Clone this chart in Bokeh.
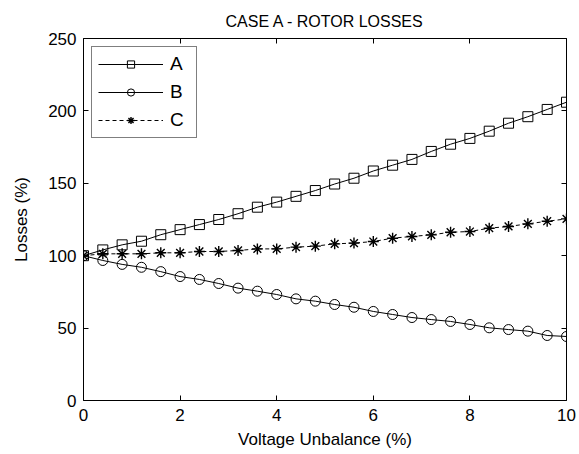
from bokeh.plotting import figure
from bokeh.models import LinearAxis, Range1d, FixedTicker
from bokeh.embed import file_html
from bokeh.resources import INLINE

x = [0, 0.4, 0.8, 1.2, 1.6, 2.0, 2.4, 2.8, 3.2, 3.6, 4.0, 4.4, 4.8, 5.2,
     5.6, 6.0, 6.4, 6.8, 7.2, 7.6, 8.0, 8.4, 8.8, 9.2, 9.6, 10.0]
series_a = [100, 104, 107.5, 110, 114.5, 118, 121.5, 125, 129, 133.5, 137, 141, 145,
            149.5, 153.5, 158.5, 162.5, 166.5, 172, 177, 181, 186, 191.5, 196, 201, 206]
series_b = [100, 96.7, 94, 92, 89, 85.6, 83.6, 80.8, 77.6, 75.5, 73.2, 70.2, 68.6,
            66.3, 64.4, 61.5, 59.4, 57.3, 55.9, 54.6, 52.5, 50.2, 49, 47.9, 44.9, 44.2]
series_c = [100, 101.3, 101.3, 101.3, 102, 102, 102.9, 102.9, 103.6, 104.7, 104.7, 105.9, 106.6,
            108.2, 108.7, 109.8, 112.1, 113.3, 114.4, 116.2, 116.7, 119, 120.2, 122, 123.8, 125.4]
x_ticks = [0, 2, 4, 6, 8, 10]
y_ticks = [0, 50, 100, 150, 200, 250]

FONT = "Liberation Sans"

p = figure(width=579, height=454, output_backend="svg", toolbar_location=None,
           x_range=Range1d(0, 10), y_range=Range1d(0, 250),
           title="CASE A - ROTOR LOSSES",
           min_border_left=83, min_border_right=13, min_border_top=38, min_border_bottom=54)

p.title.align = "center"
p.title.text_font = FONT
p.title.text_font_size = "16px"
p.title.text_font_style = "normal"
p.title.text_color = "black"
p.title.standoff = 18

p.xgrid.visible = False
p.ygrid.visible = False
p.outline_line_color = "black"
p.outline_line_width = 1
p.outline_line_alpha = 1

for ax in (p.xaxis[0], p.yaxis[0]):
    ax.axis_line_color = None
    ax.major_tick_in = 5
    ax.major_tick_out = 0
    ax.minor_tick_line_color = None
    ax.major_label_text_font = FONT
    ax.major_label_text_font_size = "17px"
    ax.major_label_text_color = "black"
    ax.axis_label_text_font = FONT
    ax.axis_label_text_font_size = "17px"
    ax.axis_label_text_font_style = "normal"
    ax.axis_label_text_color = "black"
    ax.major_tick_line_color = "black"

p.xaxis[0].ticker = FixedTicker(ticks=x_ticks)
p.yaxis[0].ticker = FixedTicker(ticks=y_ticks)
p.xaxis[0].axis_label = "Voltage Unbalance (%)"
p.yaxis[0].axis_label = "Losses (%)"
p.xaxis[0].major_label_standoff = 8
p.yaxis[0].major_label_standoff = 7
p.xaxis[0].axis_label_standoff = 6
p.yaxis[0].axis_label_standoff = 14

top_ax = LinearAxis(ticker=FixedTicker(ticks=x_ticks), axis_line_color=None,
                    major_tick_in=5, major_tick_out=0, minor_tick_line_color=None,
                    major_label_standoff=0,
                    major_label_overrides={t: "" for t in x_ticks},
                    major_tick_line_color="black")
right_ax = LinearAxis(ticker=FixedTicker(ticks=y_ticks), axis_line_color=None,
                      major_tick_in=5, major_tick_out=0, minor_tick_line_color=None,
                      major_label_overrides={t: "" for t in y_ticks},
                      major_tick_line_color="black")
p.add_layout(top_ax, "above")
p.add_layout(right_ax, "right")

p.line(x, series_a, line_color="black", line_width=1, legend_label="A")
p.scatter(x, series_a, marker="square", size=10, line_color="black", fill_color=None,
          line_width=1, legend_label="A")
p.line(x, series_b, line_color="black", line_width=1, legend_label="B")
p.scatter(x, series_b, marker="circle", size=10, line_color="black", fill_color=None,
          line_width=1, legend_label="B")
p.line(x, series_c, line_color="black", line_width=1, line_dash="4 3", legend_label="C")
p.scatter(x, series_c, marker="asterisk", size=11, line_color="black",
          line_width=1.4, legend_label="C")

lg = p.legend[0]
lg.location = "top_left"
lg.margin = 8
lg.padding = 6
lg.spacing = 6
lg.glyph_width = 65
lg.glyph_height = 18
lg.label_standoff = 7
lg.label_text_font = FONT
lg.label_text_font_size = "19px"
lg.label_text_color = "black"
lg.border_line_color = "black"
lg.border_line_width = 1
lg.background_fill_color = "white"
lg.background_fill_alpha = 1

open("out.html", "w").write(file_html(p, INLINE))
